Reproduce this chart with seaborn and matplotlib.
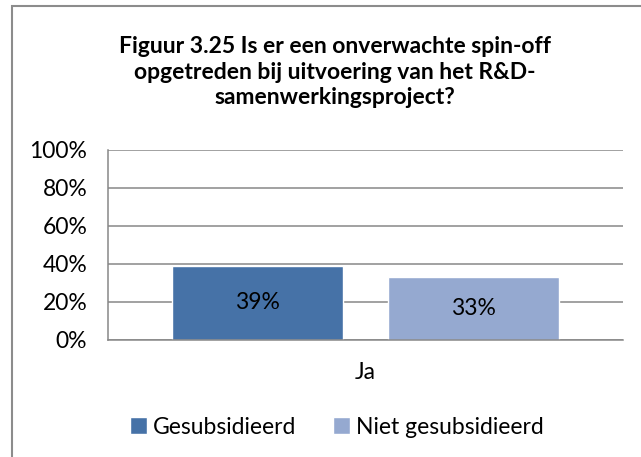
import matplotlib
matplotlib.use("Agg")
import matplotlib.pyplot as plt
from matplotlib.patches import Rectangle
from matplotlib.ticker import PercentFormatter
import pandas as pd
import seaborn as sns

# data
categories = ["Ja"]
groups = ["Gesubsidieerd", "Niet gesubsidieerd"]
gesubsidieerd = [39]
niet_gesubsidieerd = [33]
colors = ["#4672A7", "#95A9D0"]
title = ("Figuur 3.25 Is er een onverwachte spin-off\n"
         "opgetreden bij uitvoering van het R&D-\n"
         "samenwerkingsproject?")

df = pd.DataFrame({
    "categorie": categories * 2,
    "groep": [groups[0]] * len(categories) + [groups[1]] * len(categories),
    "waarde": gesubsidieerd + niet_gesubsidieerd,
})

sns.set_style("white")
plt.rcParams["font.family"] = ["Lato", "DejaVu Sans"]
fs = 16.5

fig = plt.figure(figsize=(6.41, 4.57), dpi=100)
ax = fig.add_axes([108 / 641, 1 - 340 / 457, (623 - 108) / 641, (340 - 150) / 457])

sns.barplot(data=df, x="categorie", y="waarde", hue="groep", palette=colors,
            saturation=1, width=0.84, gap=0.21, ax=ax, legend=True)

for cont in ax.containers:
    ax.bar_label(cont, labels=[f"{v:.0f}%" for v in cont.datavalues],
                 label_type="center", fontsize=fs, color="black")

ax.set_ylim(0, 100)
ax.set_yticks(range(0, 101, 20))
ax.yaxis.set_major_formatter(PercentFormatter(decimals=0))
ax.set_xlim(-0.5, 0.5)
ax.set_xlabel("")
ax.set_ylabel("")
ax.yaxis.grid(True, color="#878787", lw=1.1)
ax.set_axisbelow(True)
ax.tick_params(axis="y", length=0, pad=15, labelsize=fs, labelcolor="black")
ax.tick_params(axis="x", length=0, pad=16, labelsize=fs, labelcolor="black")
for s in ["top", "right"]:
    ax.spines[s].set_visible(False)
for s in ["left", "bottom"]:
    ax.spines[s].set_color("#878787")
    ax.spines[s].set_linewidth(1.1)

fig.text(335 / 641, 1 - 72 / 457, title, ha="center", va="center",
         fontsize=fs, fontweight="bold", linespacing=1.24, color="black")

ax.legend_.remove()
handles, labels = ax.get_legend_handles_labels()
fig.legend(handles, labels, loc="center", bbox_to_anchor=(337 / 641, 1 - 427 / 457),
           ncol=2, frameon=False, fontsize=fs, handlelength=0.75, handleheight=0.75,
           handletextpad=0.25, columnspacing=1.6, labelcolor="black")

fig.patches.append(Rectangle((12 / 641, -0.1), 1.1, 1.1 - 6 / 457, transform=fig.transFigure,
                             fill=False, edgecolor="#8c8c8c", lw=1.5))

fig.savefig("out.png", dpi=100)
